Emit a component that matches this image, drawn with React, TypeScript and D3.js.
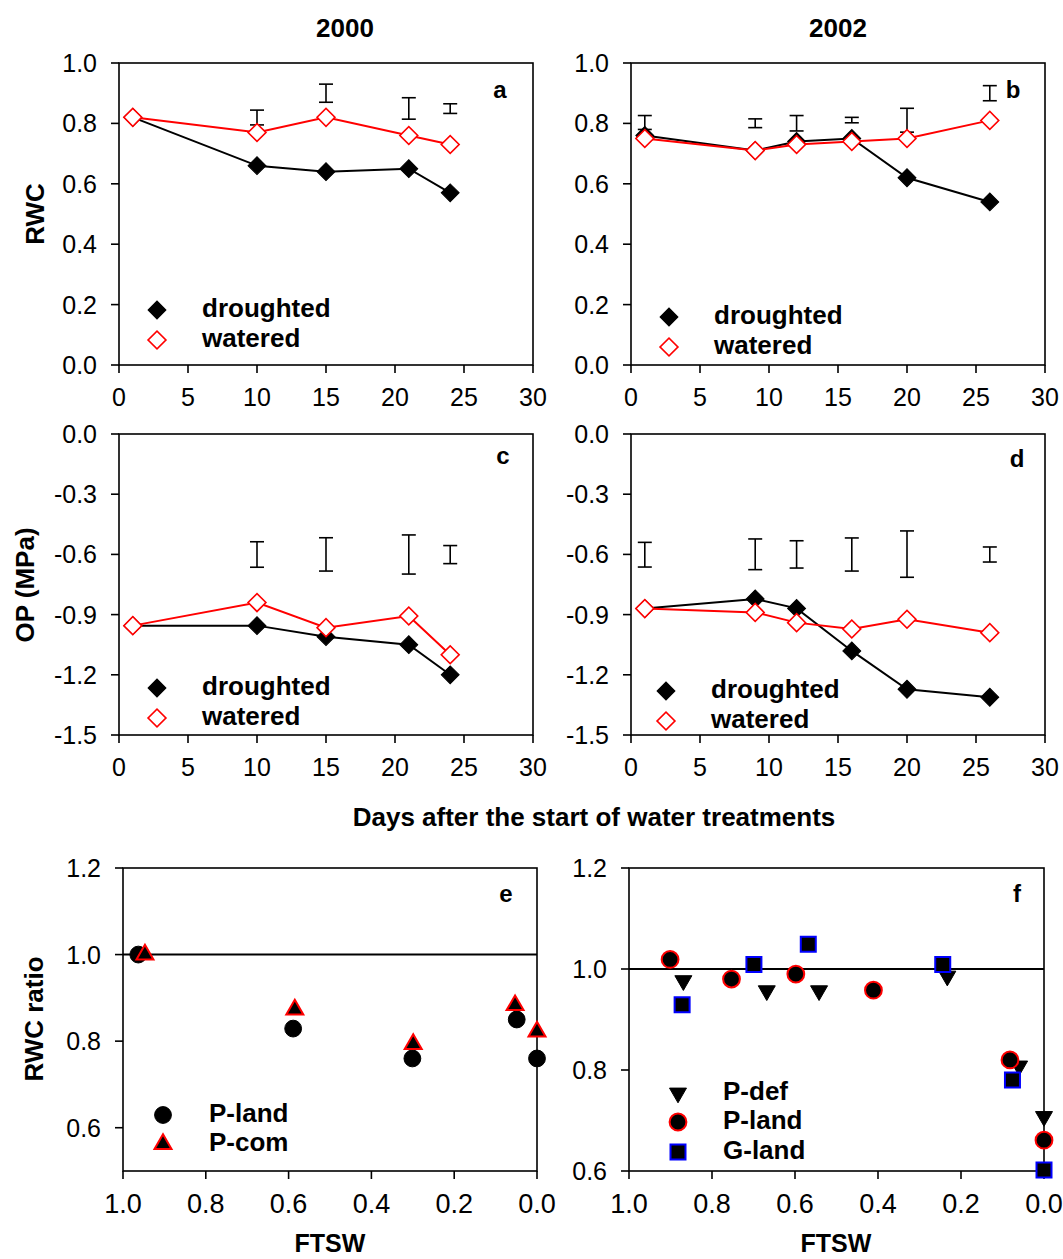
import React from 'react';
import * as d3 from 'd3';

const FONT = "'Liberation Sans', Arial, Helvetica, sans-serif";

// ---------- Data ----------
const DAY_TICKS = [0, 5, 10, 15, 20, 25, 30];
const RWC_TICKS = [0.0, 0.2, 0.4, 0.6, 0.8, 1.0];
const OP_TICKS = [0.0, -0.3, -0.6, -0.9, -1.2, -1.5];
const FTSW_TICKS = [1.0, 0.8, 0.6, 0.4, 0.2, 0.0];
const RATIO_TICKS = [0.6, 0.8, 1.0, 1.2];

// 2000
const DAYS_2000 = [1, 10, 15, 21, 24];
const RWC_2000_DROUGHTED = [0.82, 0.66, 0.64, 0.65, 0.57];
const RWC_2000_WATERED = [0.82, 0.77, 0.82, 0.76, 0.73];
const ERR_DAYS_2000 = [10, 15, 21, 24];
const RWC_2000_ERR_LOW = [0.795, 0.87, 0.814, 0.833];
const RWC_2000_ERR_HIGH = [0.844, 0.93, 0.885, 0.865];
const OP_2000_DROUGHTED = [-0.955, -0.955, -1.01, -1.05, -1.2];
const OP_2000_WATERED = [-0.955, -0.84, -0.965, -0.907, -1.1];
const OP_2000_ERR_LOW = [-0.664, -0.683, -0.698, -0.646];
const OP_2000_ERR_HIGH = [-0.537, -0.517, -0.503, -0.556];

// 2002
const DAYS_2002 = [1, 9, 12, 16, 20, 26];
const RWC_2002_DROUGHTED = [0.76, 0.71, 0.74, 0.75, 0.62, 0.54];
const RWC_2002_WATERED = [0.75, 0.71, 0.73, 0.74, 0.75, 0.81];
const RWC_2002_ERR_LOW = [0.78, 0.786, 0.775, 0.802, 0.771, 0.875];
const RWC_2002_ERR_HIGH = [0.826, 0.815, 0.826, 0.82, 0.85, 0.925];
const OP_2002_DROUGHTED = [-0.87, -0.822, -0.869, -1.081, -1.272, -1.312];
const OP_2002_WATERED = [-0.87, -0.889, -0.94, -0.972, -0.923, -0.99];
const OP_2002_ERR_LOW = [-0.663, -0.676, -0.668, -0.683, -0.714, -0.638];
const OP_2002_ERR_HIGH = [-0.54, -0.523, -0.532, -0.518, -0.483, -0.563];

// RWC ratio vs FTSW
const E_PLAND_FTSW = [0.963, 0.589, 0.301, 0.049, 0.0];
const E_PLAND_RATIO = [1.0, 0.829, 0.76, 0.85, 0.76];
const E_PCOM_FTSW = [0.947, 0.585, 0.299, 0.053, 0.0];
const E_PCOM_RATIO = [1.0, 0.873, 0.793, 0.883, 0.822];

const F_PDEF_FTSW = [0.869, 0.668, 0.542, 0.233, 0.06, 0.0];
const F_PDEF_RATIO = [0.977, 0.957, 0.957, 0.986, 0.808, 0.708];
const F_PLAND_FTSW = [0.901, 0.753, 0.598, 0.411, 0.082, 0.0];
const F_PLAND_RATIO = [1.019, 0.98, 0.99, 0.958, 0.82, 0.661];
const F_GLAND_FTSW = [0.872, 0.699, 0.568, 0.244, 0.076, 0.0];
const F_GLAND_RATIO = [0.929, 1.009, 1.049, 1.009, 0.78, 0.602];

// ---------- Helpers ----------
type Box = { left: number; right: number; top: number; bottom: number };
const fmt1 = (v: number) => d3.format('.1f')(v).replace('\u2212', '-');
const fmt0 = (v: number) => d3.format('d')(v);

const diamondPath = d3.symbol().type(d3.symbolSquare).size(160)()!;
const circlePath = d3.symbol().type(d3.symbolCircle).size(Math.PI * 8.4 * 8.4)()!;
const trianglePath = d3.symbol().type(d3.symbolTriangle).size(125)()!;
const squarePath = d3.symbol().type(d3.symbolSquare).size(225)()!;

type MarkerKind = 'dFilled' | 'dOpen' | 'circle' | 'circleRed' | 'triRed' | 'triDown' | 'squareBlue';

function Marker({ kind, x, y }: { kind: MarkerKind; x: number; y: number }) {
  switch (kind) {
    case 'dFilled':
      return <path d={diamondPath} transform={`translate(${x},${y}) rotate(45)`} fill="#000" stroke="#000" strokeWidth={1} />;
    case 'dOpen':
      return <path d={diamondPath} transform={`translate(${x},${y}) rotate(45)`} fill="#fff" stroke="#ff0000" strokeWidth={1.6} />;
    case 'circle':
      return <path d={circlePath} transform={`translate(${x},${y})`} fill="#000" stroke="#000" strokeWidth={1} />;
    case 'circleRed':
      return <path d={circlePath} transform={`translate(${x},${y})`} fill="#000" stroke="#ff0000" strokeWidth={2} />;
    case 'triRed':
      return <path d={trianglePath} transform={`translate(${x},${y})`} fill="#000" stroke="#ff0000" strokeWidth={2} />;
    case 'triDown':
      return <path d={trianglePath} transform={`translate(${x},${y}) rotate(180)`} fill="#000" stroke="#000" strokeWidth={1} />;
    case 'squareBlue':
      return <path d={squarePath} transform={`translate(${x},${y})`} fill="#000" stroke="#0000ff" strokeWidth={2} />;
  }
}

function Frame({ box, x, y, xTicks, yTicks, xFmt, yFmt, xLabelSize = 25, xLabelDy = 41 }: any) {
  return (
    <g>
      <rect x={box.left} y={box.top} width={box.right - box.left} height={box.bottom - box.top}
        fill="none" stroke="#000" strokeWidth={1.6} />
      {yTicks.map((t: number) => (
        <g key={'y' + t}>
          <line x1={box.left - 8} x2={box.left} y1={y(t)} y2={y(t)} stroke="#000" strokeWidth={1.6} />
          <text x={box.left - 22} y={y(t) + 9} textAnchor="end" fontSize={25} fontFamily={FONT}>{yFmt(t)}</text>
        </g>
      ))}
      {xTicks.map((t: number) => (
        <g key={'x' + t}>
          <line x1={x(t)} x2={x(t)} y1={box.bottom} y2={box.bottom + 8} stroke="#000" strokeWidth={1.6} />
          <text x={x(t)} y={box.bottom + xLabelDy} textAnchor="middle" fontSize={xLabelSize} fontFamily={FONT}>{xFmt(t)}</text>
        </g>
      ))}
    </g>
  );
}

function ErrBars({ xs, lows, highs, x, y }: any) {
  return (
    <g stroke="#000" strokeWidth={1.6}>
      {xs.map((d: number, i: number) => (
        <g key={i}>
          <line x1={x(d)} x2={x(d)} y1={y(lows[i])} y2={y(highs[i])} />
          <line x1={x(d) - 7} x2={x(d) + 7} y1={y(lows[i])} y2={y(lows[i])} />
          <line x1={x(d) - 7} x2={x(d) + 7} y1={y(highs[i])} y2={y(highs[i])} />
        </g>
      ))}
    </g>
  );
}

function LinePair({ days, dr, wa, x, y }: any) {
  const line = d3.line<number>().x((_, i) => x(days[i])).y((v) => y(v));
  return (
    <g>
      <path d={line(dr)!} fill="none" stroke="#000" strokeWidth={2} />
      <path d={line(wa)!} fill="none" stroke="#ff0000" strokeWidth={2} />
      {dr.map((v: number, i: number) => <Marker key={'d' + i} kind="dFilled" x={x(days[i])} y={y(v)} />)}
      {wa.map((v: number, i: number) => <Marker key={'w' + i} kind="dOpen" x={x(days[i])} y={y(v)} />)}
    </g>
  );
}

function Legend({ items, mx, tx, ys }: { items: [MarkerKind, string][]; mx: number; tx: number; ys: number[] }) {
  return (
    <g>
      {items.map(([k, label], i) => (
        <g key={label}>
          <Marker kind={k} x={mx} y={ys[i]} />
          <text x={tx} y={ys[i] + 7} fontSize={26} fontWeight="bold" fontFamily={FONT}>{label}</text>
        </g>
      ))}
    </g>
  );
}

function PanelLetter({ x, y, t }: { x: number; y: number; t: string }) {
  return <text x={x} y={y} fontSize={24} fontWeight="bold" fontFamily={FONT} textAnchor="middle">{t}</text>;
}

export default function App() {
  const A: Box = { left: 119, right: 533, top: 63, bottom: 365 };
  const B: Box = { left: 631, right: 1045, top: 63, bottom: 365 };
  const C: Box = { left: 119, right: 533, top: 434, bottom: 735 };
  const D: Box = { left: 631, right: 1045, top: 434, bottom: 735 };
  const E: Box = { left: 123, right: 537, top: 868, bottom: 1171 };
  const F: Box = { left: 629, right: 1044, top: 868, bottom: 1171 };

  const xs = (b: Box, dom: [number, number]) => d3.scaleLinear().domain(dom).range([b.left, b.right]);
  const ys = (b: Box, dom: [number, number]) => d3.scaleLinear().domain(dom).range([b.bottom, b.top]);

  const xA = xs(A, [0, 30]), yA = ys(A, [0, 1]);
  const xB = xs(B, [0, 30]), yB = ys(B, [0, 1]);
  const xC = xs(C, [0, 30]), yC = ys(C, [-1.5, 0]);
  const xD = xs(D, [0, 30]), yD = ys(D, [-1.5, 0]);
  const xE = xs(E, [1, 0]), yE = ys(E, [0.5, 1.2]);
  const xF = xs(F, [1, 0]), yF = ys(F, [0.6, 1.2]);

  const droughtLegend: [MarkerKind, string][] = [['dFilled', 'droughted'], ['dOpen', 'watered']];

  return (
    <svg width={1063} height={1259} style={{ position: 'absolute', left: 0, top: 0, background: '#fff' }}>
      <rect x={0} y={0} width={1063} height={1259} fill="#fff" />
      {/* Titles */}
      <text x={345} y={37} textAnchor="middle" fontSize={26} fontWeight="bold" fontFamily={FONT}>2000</text>
      <text x={838} y={37} textAnchor="middle" fontSize={26} fontWeight="bold" fontFamily={FONT}>2002</text>

      {/* Axis titles */}
      <text transform="translate(44,214) rotate(-90)" textAnchor="middle" fontSize={26} fontWeight="bold" fontFamily={FONT}>RWC</text>
      <text transform="translate(34,585) rotate(-90)" textAnchor="middle" fontSize={26} fontWeight="bold" fontFamily={FONT}>OP (MPa)</text>
      <text transform="translate(43,1019) rotate(-90)" textAnchor="middle" fontSize={26} fontWeight="bold" fontFamily={FONT}>RWC ratio</text>
      <text x={594} y={826} textAnchor="middle" fontSize={26} fontWeight="bold" fontFamily={FONT}>Days after the start of water treatments</text>
      <text x={330} y={1252} textAnchor="middle" fontSize={25} fontWeight="bold" fontFamily={FONT}>FTSW</text>
      <text x={836} y={1252} textAnchor="middle" fontSize={25} fontWeight="bold" fontFamily={FONT}>FTSW</text>

      {/* Panel a */}
      <Frame box={A} x={xA} y={yA} xTicks={DAY_TICKS} yTicks={RWC_TICKS} xFmt={fmt0} yFmt={fmt1} />
      <ErrBars xs={ERR_DAYS_2000} lows={RWC_2000_ERR_LOW} highs={RWC_2000_ERR_HIGH} x={xA} y={yA} />
      <LinePair days={DAYS_2000} dr={RWC_2000_DROUGHTED} wa={RWC_2000_WATERED} x={xA} y={yA} />
      <Legend items={droughtLegend} mx={157} tx={202} ys={[310, 340]} />
      <PanelLetter x={500} y={98} t="a" />

      {/* Panel b */}
      <Frame box={B} x={xB} y={yB} xTicks={DAY_TICKS} yTicks={RWC_TICKS} xFmt={fmt0} yFmt={fmt1} />
      <ErrBars xs={DAYS_2002} lows={RWC_2002_ERR_LOW} highs={RWC_2002_ERR_HIGH} x={xB} y={yB} />
      <LinePair days={DAYS_2002} dr={RWC_2002_DROUGHTED} wa={RWC_2002_WATERED} x={xB} y={yB} />
      <Legend items={droughtLegend} mx={669} tx={714} ys={[317, 347]} />
      <PanelLetter x={1013} y={98} t="b" />

      {/* Panel c */}
      <Frame box={C} x={xC} y={yC} xTicks={DAY_TICKS} yTicks={OP_TICKS} xFmt={fmt0} yFmt={fmt1} />
      <ErrBars xs={ERR_DAYS_2000} lows={OP_2000_ERR_LOW} highs={OP_2000_ERR_HIGH} x={xC} y={yC} />
      <LinePair days={DAYS_2000} dr={OP_2000_DROUGHTED} wa={OP_2000_WATERED} x={xC} y={yC} />
      <Legend items={droughtLegend} mx={157} tx={202} ys={[688, 718]} />
      <PanelLetter x={503} y={464} t="c" />

      {/* Panel d */}
      <Frame box={D} x={xD} y={yD} xTicks={DAY_TICKS} yTicks={OP_TICKS} xFmt={fmt0} yFmt={fmt1} />
      <ErrBars xs={DAYS_2002} lows={OP_2002_ERR_LOW} highs={OP_2002_ERR_HIGH} x={xD} y={yD} />
      <LinePair days={DAYS_2002} dr={OP_2002_DROUGHTED} wa={OP_2002_WATERED} x={xD} y={yD} />
      <Legend items={droughtLegend} mx={666} tx={711} ys={[691, 721]} />
      <PanelLetter x={1017} y={467} t="d" />

      {/* Panel e */}
      <Frame box={E} x={xE} y={yE} xTicks={FTSW_TICKS} yTicks={RATIO_TICKS} xFmt={fmt1} yFmt={fmt1} xLabelSize={27} xLabelDy={42} />
      <line x1={E.left} x2={E.right} y1={yE(1)} y2={yE(1)} stroke="#000" strokeWidth={2} />
      {E_PLAND_FTSW.map((f, i) => <Marker key={'ep' + i} kind="circle" x={xE(f)} y={yE(E_PLAND_RATIO[i])} />)}
      {E_PCOM_FTSW.map((f, i) => <Marker key={'ec' + i} kind="triRed" x={xE(f)} y={yE(E_PCOM_RATIO[i])} />)}
      <Legend items={[['circle', 'P-land'], ['triRed', 'P-com']]} mx={163} tx={209} ys={[1115, 1144]} />
      <PanelLetter x={506} y={902} t="e" />

      {/* Panel f */}
      <Frame box={F} x={xF} y={yF} xTicks={FTSW_TICKS} yTicks={RATIO_TICKS} xFmt={fmt1} yFmt={fmt1} xLabelSize={27} xLabelDy={42} />
      <line x1={F.left} x2={F.right} y1={yF(1)} y2={yF(1)} stroke="#000" strokeWidth={2} />
      {F_PDEF_FTSW.map((f, i) => <Marker key={'fd' + i} kind="triDown" x={xF(f)} y={yF(F_PDEF_RATIO[i])} />)}
      {F_PLAND_FTSW.map((f, i) => <Marker key={'fl' + i} kind="circleRed" x={xF(f)} y={yF(F_PLAND_RATIO[i])} />)}
      {F_GLAND_FTSW.map((f, i) => <Marker key={'fg' + i} kind="squareBlue" x={xF(f)} y={yF(F_GLAND_RATIO[i])} />)}
      <Legend items={[['triDown', 'P-def'], ['circleRed', 'P-land'], ['squareBlue', 'G-land']]} mx={678} tx={723} ys={[1093, 1122, 1152]} />
      <PanelLetter x={1017} y={902} t="f" />
    </svg>
  );
}
